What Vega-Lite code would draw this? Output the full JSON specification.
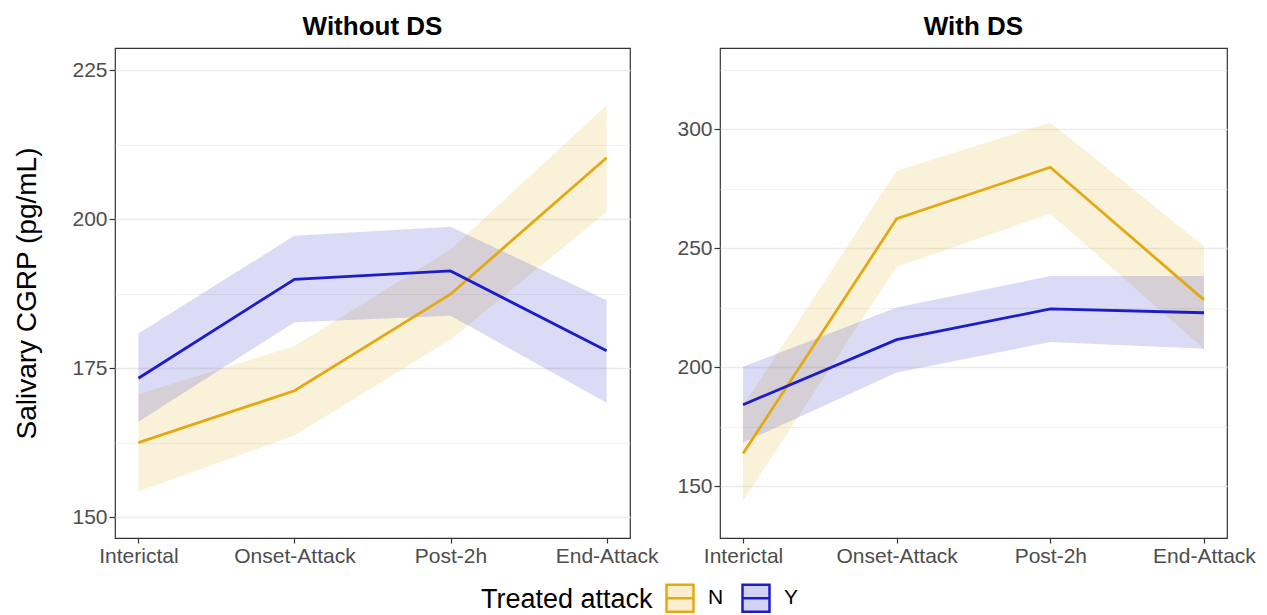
{
  "$schema": "https://vega.github.io/schema/vega-lite/v6.json",
  "padding": {"left": 13, "top": 13, "right": 0, "bottom": 5},
  "background": "white",
  "datasets": {
    "d": [
      {"panel": "Without DS", "time": "Interictal", "treated": "N", "mean": 162.5, "lo": 154.3, "hi": 170.6},
      {"panel": "Without DS", "time": "Onset-Attack", "treated": "N", "mean": 171.2, "lo": 163.7, "hi": 178.7},
      {"panel": "Without DS", "time": "Post-2h", "treated": "N", "mean": 187.4, "lo": 179.8, "hi": 194.9},
      {"panel": "Without DS", "time": "End-Attack", "treated": "N", "mean": 210.3, "lo": 201.2, "hi": 219.1},
      {"panel": "Without DS", "time": "Interictal", "treated": "Y", "mean": 173.3, "lo": 166.0, "hi": 180.8},
      {"panel": "Without DS", "time": "Onset-Attack", "treated": "Y", "mean": 189.9, "lo": 182.7, "hi": 197.2},
      {"panel": "Without DS", "time": "Post-2h", "treated": "Y", "mean": 191.3, "lo": 183.8, "hi": 198.7},
      {"panel": "Without DS", "time": "End-Attack", "treated": "Y", "mean": 177.9, "lo": 169.2, "hi": 186.4},
      {"panel": "With DS", "time": "Interictal", "treated": "N", "mean": 163.8, "lo": 143.9, "hi": 183.7},
      {"panel": "With DS", "time": "Onset-Attack", "treated": "N", "mean": 262.4, "lo": 242.2, "hi": 282.5},
      {"panel": "With DS", "time": "Post-2h", "treated": "N", "mean": 284.0, "lo": 264.5, "hi": 302.8},
      {"panel": "With DS", "time": "End-Attack", "treated": "N", "mean": 228.3, "lo": 207.8, "hi": 250.8},
      {"panel": "With DS", "time": "Interictal", "treated": "Y", "mean": 184.3, "lo": 168.4, "hi": 200.2},
      {"panel": "With DS", "time": "Onset-Attack", "treated": "Y", "mean": 211.6, "lo": 197.8, "hi": 225.1},
      {"panel": "With DS", "time": "Post-2h", "treated": "Y", "mean": 224.5, "lo": 210.6, "hi": 238.3},
      {"panel": "With DS", "time": "End-Attack", "treated": "Y", "mean": 222.9, "lo": 207.8, "hi": 238.3}
    ]
  },
  "config": {
    "font": "Liberation Sans",
    "view": {"stroke": "#333333", "strokeWidth": 1.2},
    "axis": {
      "domain": false,
      "gridColor": "#EBEBEB",
      "gridWidth": 1.2,
      "tickColor": "#333333",
      "tickSize": 6,
      "tickWidth": 1.2,
      "labelFontSize": 21,
      "labelColor": "#4D4D4D",
      "labelPadding": 2,
      "titleFontSize": 28,
      "titleFontWeight": "normal",
      "titleColor": "#000000"
    },
    "title": {"fontSize": 26, "fontWeight": "bold", "color": "#000000", "anchor": "middle", "baseline": "alphabetic", "frame": "group", "offset": 8},
    "legend": {
      "titleFontSize": 27,
      "titleFontWeight": "normal",
      "titleColor": "#000000",
      "labelFontSize": 21,
      "labelColor": "#000000"
    }
  },
  "bounds": "flush",
  "spacing": 90,
  "hconcat": [
    {
      "width": 515,
      "height": 490,
      "title": {"text": "Without DS"},
      "data": {"name": "d"},
      "transform": [{"filter": "datum.panel === 'Without DS'"}],
      "encoding": {
        "x": {
          "field": "time", "type": "ordinal",
          "sort": ["Interictal", "Onset-Attack", "Post-2h", "End-Attack"],
          "scale": {"type": "point", "padding": 0.15},
          "axis": {"title": null, "labelAngle": 0, "tickSize": 5, "labelPadding": 2}
        },
        "color": {
          "field": "treated", "type": "nominal",
          "scale": {"domain": ["N", "Y"], "range": ["#E3A912", "#1C1CC8"]},
          "legend": {
            "title": "Treated attack",
            "orient": "none",
            "direction": "horizontal",
            "titleOrient": "left",
            "legendX": 366,
            "legendY": 535,
            "titlePadding": 12,
            "columnPadding": 13,
            "labelOffset": 13,
            "symbolType": "M-1,-1H1V1H-1Z M-1,0H1",
            "symbolSize": 729,
            "symbolStrokeWidth": 2.5,
            "encoding": {
              "symbols": {
                "shape": {"value": "M-1,-1H1V1H-1Z M-1,0H1"},
                "fillOpacity": {"value": 0.2},
                "stroke": {"scale": "color", "field": "value"},
                "strokeWidth": {"value": 2.5},
                "strokeOpacity": {"value": 1},
                "opacity": {"value": 1}
              }
            }
          }
        }
      },
      "layer": [
        {
          "mark": {"type": "area", "opacity": 0.16},
          "encoding": {
            "y": {
              "field": "lo", "type": "quantitative",
              "scale": {"domain": [146.5, 228.7], "nice": false, "zero": false},
              "axis": {
                "title": "Salivary CGRP (pg/mL)",
                "titlePadding": 30,
                "values": [150, 162.5, 175, 187.5, 200, 212.5, 225],
                "labelExpr": "datum.value % 25 === 0 ? datum.label : ''",
                "tickOpacity": {"condition": {"test": "datum.value % 25 !== 0", "value": 0}, "value": 1},
                "gridWidth": {"condition": {"test": "datum.value % 25 !== 0", "value": 0.7}, "value": 1.3}
              }
            },
            "y2": {"field": "hi"}
          }
        },
        {
          "mark": {"type": "line", "strokeWidth": 2.8},
          "encoding": {
            "y": {"field": "mean", "type": "quantitative"}
          }
        }
      ]
    },
    {
      "width": 507,
      "height": 490,
      "title": {"text": "With DS"},
      "data": {"name": "d"},
      "transform": [{"filter": "datum.panel === 'With DS'"}],
      "encoding": {
        "x": {
          "field": "time", "type": "ordinal",
          "sort": ["Interictal", "Onset-Attack", "Post-2h", "End-Attack"],
          "scale": {"type": "point", "padding": 0.15},
          "axis": {"title": null, "labelAngle": 0, "tickSize": 5, "labelPadding": 2}
        },
        "color": {"field": "treated", "type": "nominal", "scale": {"domain": ["N", "Y"], "range": ["#E3A912", "#1C1CC8"]}}
      },
      "layer": [
        {
          "mark": {"type": "area", "opacity": 0.16},
          "encoding": {
            "y": {
              "field": "lo", "type": "quantitative",
              "scale": {"domain": [128.3, 334.1], "nice": false, "zero": false},
              "axis": {
                "title": null,
                "values": [150, 175, 200, 225, 250, 275, 300, 325],
                "labelExpr": "datum.value % 50 === 0 ? datum.label : ''",
                "tickOpacity": {"condition": {"test": "datum.value % 50 !== 0", "value": 0}, "value": 1},
                "gridWidth": {"condition": {"test": "datum.value % 50 !== 0", "value": 0.7}, "value": 1.3}
              }
            },
            "y2": {"field": "hi"}
          }
        },
        {
          "mark": {"type": "line", "strokeWidth": 2.8},
          "encoding": {
            "y": {"field": "mean", "type": "quantitative"}
          }
        }
      ]
    }
  ]
}
